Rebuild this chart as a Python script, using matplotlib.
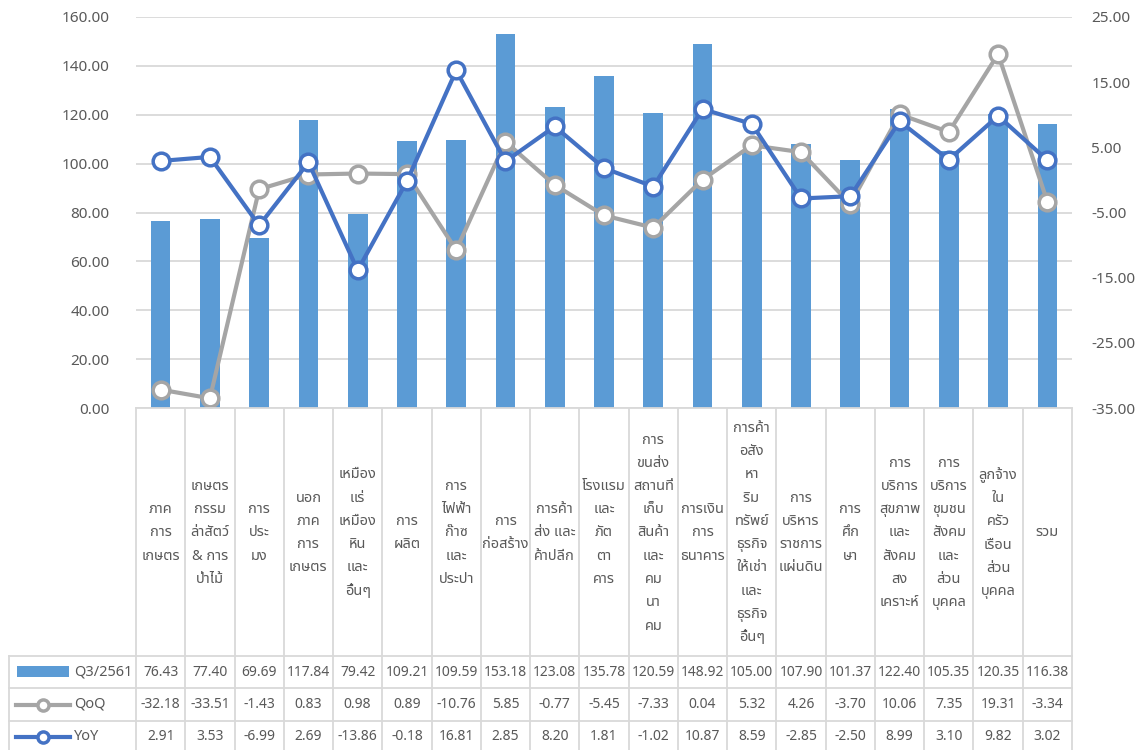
import numpy as np
import matplotlib
matplotlib.use('Agg')
import matplotlib.pyplot as plt
from matplotlib import font_manager
from matplotlib.ft2font import FT2Font
from matplotlib.lines import Line2D
from matplotlib.patches import Rectangle
import matplotlib.transforms as mtransforms

categories = [
    'ภาค\nการ\nเกษตร',
    'เกษตร\nกรรม\nล่าสัตว์\n& การ\nป่าไม้',
    'การ\nประ\nมง',
    'นอก\nภาค\nการ\nเกษตร',
    'เหมือง\nแร่\nเหมือง\nหิน\nและ\nอื่นๆ',
    'การ\nผลิต',
    'การ\nไฟฟ้า\nก๊าซ\nและ\nประปา',
    'การ\nก่อสร้าง',
    'การค้า\nส่ง และ\nค้าปลีก',
    'โรงแรม\nและ\nภัต\nตา\nคาร',
    'การ\nขนส่ง\nสถานที่\nเก็บ\nสินค้า\nและ\nคม\nนา\nคม',
    'การเงิน\nการ\nธนาคาร',
    'การค้า\nอสัง\nหา\nริม\nทรัพย์\nธุรกิจ\nให้เช่า\nและ\nธุรกิจ\nอื่นๆ',
    'การ\nบริหาร\nราชการ\nแผ่นดิน',
    'การ\nศึก\nษา',
    'การ\nบริการ\nสุขภาพ\nและ\nสังคม\nสง\nเคราะห์',
    'การ\nบริการ\nชุมชน\nสังคม\nและ\nส่วน\nบุคคล',
    'ลูกจ้าง\nใน\nครัว\nเรือน\nส่วน\nบุคคล',
    'รวม',
]
q3_2561 = [76.43, 77.40, 69.69, 117.84, 79.42, 109.21, 109.59, 153.18, 123.08, 135.78,
           120.59, 148.92, 105.00, 107.90, 101.37, 122.40, 105.35, 120.35, 116.38]
qoq = [-32.18, -33.51, -1.43, 0.83, 0.98, 0.89, -10.76, 5.85, -0.77, -5.45,
       -7.33, 0.04, 5.32, 4.26, -3.70, 10.06, 7.35, 19.31, -3.34]
yoy = [2.91, 3.53, -6.99, 2.69, -13.86, -0.18, 16.81, 2.85, 8.20, 1.81,
       -1.02, 10.87, 8.59, -2.85, -2.50, 8.99, 3.10, 9.82, 3.02]
series_names = ['Q3/2561', 'QoQ', 'YoY']

BAR = '#5B9BD5'
GREY = '#A5A5A5'
BLUE = '#4472C4'
TXT = '#595959'
GRID = '#D9D9D9'

# find a font that has Thai glyphs
found = []
for f in font_manager.fontManager.ttflist:
    try:
        if 0x0E01 in FT2Font(f.fname).get_charmap():
            found.append(f.name)
    except Exception:
        pass
found = sorted(set(found))
thai = None
for pref in ['Noto Sans Thai', 'Noto Sans Thai UI', 'IBM Plex Sans Thai', 'Loma', 'Garuda']:
    if pref in found:
        thai = pref
        break
if thai is None and found:
    thai = found[0]
plt.rcParams['font.family'] = ([thai] if thai else []) + ['DejaVu Sans']

W, H = 1139, 750
def fx(px):
    return px / W
def fy(py):
    return 1 - py / H

fig = plt.figure(figsize=(W / 100, H / 100), dpi=100)
ax = fig.add_axes([fx(136), fy(408), fx(1072) - fx(136), fy(17) - fy(408)])
ax2 = ax.twinx()

x = np.arange(len(categories))
ax.bar(x, q3_2561, width=0.4, color=BAR, zorder=2)
ax.set_xlim(-0.5, len(categories) - 0.5)
ax.set_ylim(0, 160)
ax.set_yticks(np.arange(0, 161, 20))
ax.yaxis.set_major_formatter(matplotlib.ticker.FormatStrFormatter('%.2f'))
ax.grid(axis='y', color=GRID, lw=1.3)
ax.set_axisbelow(True)
ax.set_xticks([])

ax2.plot(x, qoq, color=GREY, lw=3, marker='o', ms=12, mfc='white', mec=GREY, mew=2.5, zorder=3)
ax2.plot(x, yoy, color=BLUE, lw=3, marker='o', ms=12, mfc='white', mec=BLUE, mew=2.5, zorder=4)
ax2.set_ylim(-35, 25)
ax2.set_yticks(np.arange(-35, 26, 10))
ax2.yaxis.set_major_formatter(matplotlib.ticker.FormatStrFormatter('%.2f'))

for a in (ax, ax2):
    for s in a.spines.values():
        s.set_visible(False)
ax.tick_params(axis='y', length=0, pad=19, labelsize=11, labelcolor=TXT)
ax2.tick_params(axis='y', length=0, pad=14, labelsize=11, labelcolor=TXT)

# data table under the plot
blend = mtransforms.blended_transform_factory(ax.transData, fig.transFigure)
n = len(categories)
for k in range(n + 1):
    fig.add_artist(Line2D([k - 0.5, k - 0.5], [fy(408), fy(752)], transform=blend, color=GRID, lw=1.3))
fig.add_artist(Line2D([-0.5, n - 0.5], [fy(408)] * 2, transform=blend, color=GRID, lw=1.3))
x_right = ax.get_position().x1
for yy in [656, 688, 721]:
    fig.add_artist(Line2D([fx(8.5), x_right], [fy(yy)] * 2, color=GRID, lw=1.3))
fig.add_artist(Line2D([fx(8.5), fx(8.5)], [fy(656), fy(752)], color=GRID, lw=1.3))

for i, lab in enumerate(categories):
    fig.text(i, fy(533), lab, transform=blend, ha='center', va='center',
             fontsize=10.5, color=TXT, linespacing=1.75)

row_y = [672, 704.5, 737]
for r, vals in enumerate([q3_2561, qoq, yoy]):
    for i, v in enumerate(vals):
        fig.text(i, fy(row_y[r]), f'{v:.2f}', transform=blend, ha='center', va='center',
                 fontsize=10, color=TXT)

# legend keys in the left column
fig.add_artist(Rectangle((fx(17), fy(677)), fx(69) - fx(17), 11 / H, transform=fig.transFigure,
                         color=BAR, lw=0))
for yy, c in [(704.5, GREY), (737, BLUE)]:
    fig.add_artist(Line2D([fx(16), fx(43), fx(70)], [fy(yy)] * 3, color=c, lw=3, marker='o',
                          markevery=[1], ms=8, mfc='white', mec=c, mew=2.5))
for r, name in enumerate(series_names):
    fig.text(fx(74), fy(row_y[r]), name, ha='left', va='center', fontsize=10.5, color=TXT)

fig.savefig('out.png', dpi=100)
